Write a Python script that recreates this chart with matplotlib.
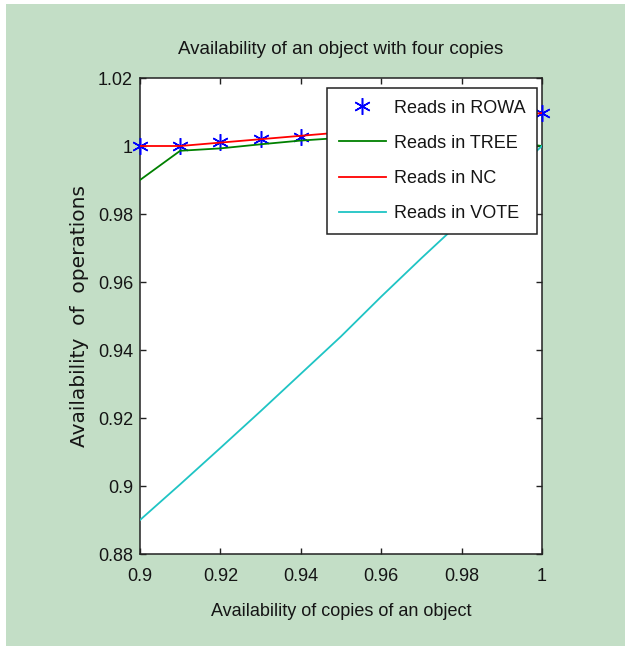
import matplotlib
matplotlib.use("Agg")
import matplotlib.pyplot as plt
from matplotlib.patches import Rectangle
from matplotlib.ticker import FuncFormatter

# data
p = [0.90, 0.91, 0.92, 0.93, 0.94, 0.95, 0.96, 0.97, 0.98, 0.99, 1.00]
rowa = [1.000, 1.000, 1.0012, 1.0020, 1.0027, 1.0037, 1.0048, 1.0060, 1.0072, 1.0085, 1.0097]
tree = [0.990, 0.9986, 0.9993, 1.0005, 1.0016, 1.0024, 1.0030, 1.0030, 1.0025, 1.0015, 1.000]
nc = [1.000, 1.000, 1.0010, 1.0020, 1.0030, 1.0040, 1.0050, 1.0061, 1.0072, 1.0084, 1.0097]
vote = [0.890, 0.9005, 0.9112, 0.922, 0.933, 0.944, 0.9557, 0.967, 0.978, 0.989, 1.000]

xticks = [0.90, 0.92, 0.94, 0.96, 0.98, 1.00]
yticks = [0.88, 0.90, 0.92, 0.94, 0.96, 0.98, 1.00, 1.02]

BG = "#c3dec6"
TXT = "#151515"

plt.rcParams.update({
    "font.family": ["Liberation Sans", "DejaVu Sans"],
    "font.size": 13,
    "text.color": TXT,
    "axes.labelcolor": TXT,
    "xtick.color": "#222222",
    "ytick.color": "#222222",
    "xtick.labelcolor": TXT,
    "ytick.labelcolor": TXT,
})

fig = plt.figure(figsize=(6.25, 6.46), dpi=100, facecolor=BG)
# thin white strips at top and left edge
fig.patches.append(Rectangle((0, 1 - 4 / 646), 1, 4 / 646, transform=fig.transFigure,
                             facecolor="white", edgecolor="none"))
fig.patches.append(Rectangle((0, 0), 6 / 625, 1, transform=fig.transFigure,
                             facecolor="white", edgecolor="none"))

ax = fig.add_axes([140 / 625, 1 - 554 / 646, 402 / 625, 476 / 646])
ax.set_facecolor("white")

ax.plot(p, rowa, linestyle="none", marker=(6, 2, 0), markersize=12, markeredgewidth=1.1,
        color="#0000ff", label="Reads in ROWA", clip_on=False, zorder=3)
ax.plot(p, tree, color="#008000", lw=1.3, label="Reads in TREE", zorder=4)
ax.plot(p, nc, color="#ff0000", lw=1.3, label="Reads in NC", zorder=5)
ax.plot(p, vote, color="#1fc4c4", lw=1.3, label="Reads in VOTE", zorder=4)

ax.set_xlim(0.9, 1.0)
ax.set_ylim(0.88, 1.02)
ax.set_xticks(xticks)
ax.set_yticks(yticks)
fmt = FuncFormatter(lambda v, pos: f"{v:g}")
ax.xaxis.set_major_formatter(fmt)
ax.yaxis.set_major_formatter(fmt)
ax.tick_params(direction="in", length=4.5, width=1, top=True, right=True)
ax.tick_params(axis="x", pad=10)
ax.tick_params(axis="y", pad=5)
for s in ax.spines.values():
    s.set_color("#222222")
    s.set_linewidth(1.1)

ax.set_title("Availability of an object with four copies", fontsize=13.5, pad=17)
ax.set_xlabel("Availability of copies of an object", labelpad=13)
ax.set_ylabel("Availability  of  operations", family="DejaVu Sans", fontsize=14.5, labelpad=6)

leg = ax.legend(loc="upper right", bbox_to_anchor=((537 - 140) / 402, (554 - 88) / 476),
                borderaxespad=0, fancybox=False, framealpha=1, edgecolor="#222222",
                handlelength=2.6, handletextpad=0.45, labelspacing=1.0, borderpad=0.65)
leg.get_frame().set_linewidth(1.1)
leg.set_zorder(10)

fig.savefig("out.png", dpi=100, facecolor=BG)
